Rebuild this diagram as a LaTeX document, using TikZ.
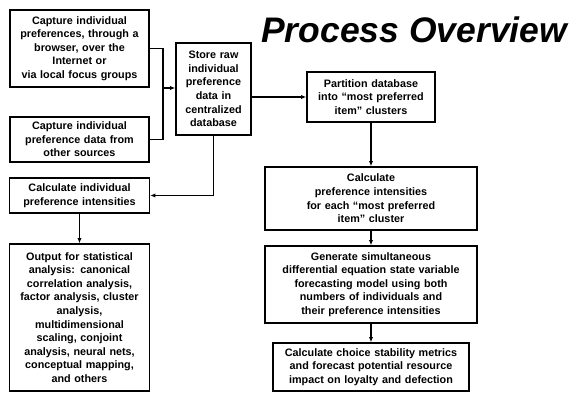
\documentclass[tikz,border=0pt]{standalone}
\usepackage{fontspec}
\newfontfamily\diagfont{Liberation Sans}
\usetikzlibrary{arrows.meta}
\tikzset{
>={Latex[width=1.5mm,length=1.8mm]},
	stagebox/.style={
		rectangle,
		sharp corners,
		fill=white,
		draw=black, line width=1.5pt,
		inner sep=0pt,
		text centered,
		font=\diagfont\bfseries\fontsize{10.8}{13.6}\selectfont},
	flow/.style={
		->,
		line width=1.1pt}
}

\begin{document}
\begin{tikzpicture}
[x=1pt, y=-1pt]
\useasboundingbox (0,0) rectangle (571,393);
\node[anchor=base west, inner sep=0pt, font=\diagfont\bfseries\itshape\fontsize{35.5}{38}\selectfont] (title) at (261,43) {Process Overview};
\node[stagebox, text width=139pt, minimum height=77pt] (capbrowser) at (79.5,48.5) {Capture individual\\preferences, through a\\browser,  over the\\Internet or\\via local focus groups};
\node[stagebox, text width=139pt, minimum height=45pt, below of=capbrowser, node distance=91pt] (capother) {Capture individual\\preference data from\\other sources};
\node[stagebox, text width=140pt, minimum height=35pt, below of=capother, node distance=56pt] (calcind) {Calculate individual\\preference intensities};
\node[stagebox, text width=140pt, minimum height=147pt, below of=calcind, node distance=122pt] (output) {Output for statistical\\analysis: canonical\\correlation analysis,\\factor analysis, cluster\\analysis,\\multidimensional\\scaling, conjoint\\analysis, neural nets,\\conceptual mapping,\\and others};
\node[stagebox, text width=75pt, minimum height=92pt] (store) at (213.5,89) {Store raw\\individual\\preference\\data in\\centralized\\database};
\node[stagebox, text width=128pt, minimum height=50pt] (partition) at (371,97) {Partition database\\into “most preferred\\item” clusters};
\node[stagebox, text width=212pt, minimum height=63pt, below of=partition, node distance=101.5pt] (calcclust) {Calculate\\preference intensities\\for each “most preferred\\item” cluster};
\node[stagebox, text width=212pt, minimum height=77pt, below of=calcclust, node distance=86pt] (generate) {Generate simultaneous\\differential equation state variable\\forecasting model using both\\numbers of individuals and\\their preference intensities};
\node[stagebox, text width=196pt, minimum height=48pt, below of=generate, node distance=82.5pt] (metrics) {Calculate choice stability metrics\\and forecast potential resource\\impact on loyalty and defection};
\coordinate (join) at (163,88);
\draw[line width=1.1pt] (capbrowser.east) -| (join) |- (capother.east);
\draw[flow] (join) -- (join -| store.west);
\draw[flow] (store.east |- partition) -- (partition.west);
\draw[flow] (partition) -- (calcclust);
\draw[flow] (calcclust) -- (generate);
\draw[flow] (generate) -- (metrics);
\draw[flow] (store.south) |- (calcind.east);
\draw[flow] (calcind) -- (output);
\end{tikzpicture}
\end{document}
